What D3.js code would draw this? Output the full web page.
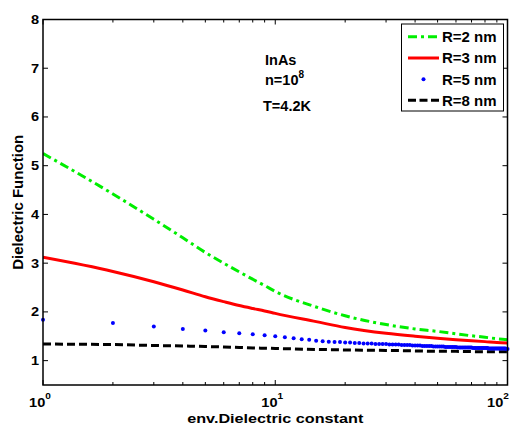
<!DOCTYPE html>
<html>
<head>
<meta charset="utf-8">
<script src="https://cdn.jsdelivr.net/npm/d3@7"></script>
<style>
body { margin: 0; background: #fff; }
svg text { font-family: "Liberation Sans", Arial, sans-serif; font-weight: bold; fill: #000; }
</style>
</head>
<body>
<script>
// env. dielectric constant where the curves were read
const epsLine = [1, 2, 3, 4, 5, 6, 7, 8, 9, 10, 15, 20, 30, 40, 50, 60, 70, 80, 90, 100];
const r2 = [5.25, 4.42, 3.90, 3.52, 3.22, 3.00, 2.82, 2.67, 2.54, 2.42, 2.10, 1.92, 1.74, 1.65, 1.60, 1.55, 1.51, 1.48, 1.45, 1.43];
const r3 = [3.12, 2.83, 2.62, 2.45, 2.31, 2.21, 2.13, 2.07, 2.02, 1.97, 1.80, 1.68, 1.56, 1.50, 1.46, 1.43, 1.41, 1.39, 1.37, 1.36];
const r8 = [1.34, 1.33, 1.31, 1.30, 1.29, 1.28, 1.27, 1.26, 1.255, 1.25, 1.23, 1.22, 1.21, 1.20, 1.19, 1.19, 1.185, 1.18, 1.18, 1.18];

// R=5 nm is plotted as dots, one per integer value
const epsDots = [1, 2, 3, 4, 5, 6, 7, 8, 9, 10, 11, 12, 13, 14, 15, 16, 17, 18, 19, 20,
  21, 22, 23, 24, 25, 26, 27, 28, 29, 30, 31, 32, 33, 34, 35, 36, 37, 38, 39, 40,
  41, 42, 43, 44, 45, 46, 47, 48, 49, 50, 51, 52, 53, 54, 55, 56, 57, 58, 59, 60,
  61, 62, 63, 64, 65, 66, 67, 68, 69, 70, 71, 72, 73, 74, 75, 76, 77, 78, 79, 80,
  81, 82, 83, 84, 85, 86, 87, 88, 89, 90, 91, 92, 93, 94, 95, 96, 97, 98, 99, 100];
const r5 = [1.84, 1.77, 1.70, 1.65, 1.62, 1.58, 1.56, 1.54, 1.52, 1.50,
  1.48, 1.46, 1.44, 1.43, 1.41, 1.40, 1.39, 1.38, 1.38, 1.37,
  1.37, 1.36, 1.36, 1.35, 1.35, 1.35, 1.34, 1.34, 1.34, 1.34,
  1.33, 1.33, 1.33, 1.33, 1.32, 1.32, 1.32, 1.32, 1.31, 1.31,
  1.31, 1.31, 1.30, 1.30, 1.30, 1.30, 1.30, 1.29, 1.29, 1.29,
  1.29, 1.29, 1.29, 1.28, 1.28, 1.28, 1.28, 1.28, 1.28, 1.28,
  1.27, 1.27, 1.27, 1.27, 1.27, 1.27, 1.27, 1.27, 1.27, 1.27,
  1.26, 1.26, 1.26, 1.26, 1.26, 1.26, 1.26, 1.26, 1.26, 1.26,
  1.26, 1.26, 1.25, 1.25, 1.25, 1.25, 1.25, 1.25, 1.25, 1.25,
  1.25, 1.25, 1.25, 1.25, 1.25, 1.25, 1.25, 1.25, 1.24, 1.24];

const yTicks = [1, 2, 3, 4, 5, 6, 7, 8];
const xMajor = [1, 10, 100];
const xMinor = [2, 3, 4, 5, 6, 7, 8, 9, 20, 30, 40, 50, 60, 70, 80, 90];
const xExp = ["0", "1", "2"];
const legendNames = ["R=2 nm", "R=3 nm", "R=5 nm", "R=8 nm"];
const notes = ["InAs", "n=10", "T=4.2K"];

const W = 512, H = 425;
const pLeft = 43, pRight = 507.5, pTop = 19.5, pBottom = 385;

const svg = d3.select("body").append("svg")
  .attr("width", W).attr("height", H);

const x = d3.scaleLog().domain([1, 100]).range([pLeft, pRight]);
const y = d3.scaleLinear().domain([0.5, 8]).range([pBottom, pTop]);

// text helper: stretch a bit in x like the original figure
function label(str, tx, ty, size, anchor, sx) {
  let g = svg.append("g").attr("transform", "translate(" + tx + "," + ty + ") scale(" + (sx || 1) + ",1)");
  let t = g.append("text").attr("font-size", size).attr("text-anchor", anchor || "start").text(str);
  return t;
}

svg.append("clipPath").attr("id", "plotclip")
  .append("rect").attr("x", pLeft).attr("y", pTop).attr("width", pRight - pLeft).attr("height", pBottom - pTop);

// ticks (inside, on all four sides)
let tk = svg.append("g").attr("stroke", "#000").attr("stroke-width", 1);
yTicks.forEach(v => {
  tk.append("line").attr("x1", pLeft).attr("x2", pLeft + 5).attr("y1", y(v)).attr("y2", y(v));
  tk.append("line").attr("x1", pRight).attr("x2", pRight - 5).attr("y1", y(v)).attr("y2", y(v));
});
xMajor.forEach(v => {
  tk.append("line").attr("x1", x(v)).attr("x2", x(v)).attr("y1", pBottom).attr("y2", pBottom - 5);
  tk.append("line").attr("x1", x(v)).attr("x2", x(v)).attr("y1", pTop).attr("y2", pTop + 5);
});
xMinor.forEach(v => {
  tk.append("line").attr("x1", x(v)).attr("x2", x(v)).attr("y1", pBottom).attr("y2", pBottom - 3);
  tk.append("line").attr("x1", x(v)).attr("x2", x(v)).attr("y1", pTop).attr("y2", pTop + 3);
});

// curves
let plot = svg.append("g").attr("clip-path", "url(#plotclip)");
let line = d3.line().x(d => x(d[0])).y(d => y(d[1])).curve(d3.curveMonotoneX);

plot.append("path").datum(d3.zip(epsLine, r8))
  .attr("d", line).attr("fill", "none").attr("stroke", "#000")
  .attr("stroke-width", 3).attr("stroke-dasharray", "8,4");
plot.append("path").datum(d3.zip(epsLine, r3))
  .attr("d", line).attr("fill", "none").attr("stroke", "#ff0000")
  .attr("stroke-width", 3);
plot.append("path").datum(d3.zip(epsLine, r2))
  .attr("d", line).attr("fill", "none").attr("stroke", "#00ee00")
  .attr("stroke-width", 3).attr("stroke-dasharray", "9,4,3,4");

svg.append("g").selectAll("circle")
  .data(d3.zip(epsDots, r5))
  .join("circle")
  .attr("cx", d => x(d[0])).attr("cy", d => y(d[1]))
  .attr("r", 2).attr("fill", "#0000ff");

// frame
svg.append("rect").attr("x", pLeft).attr("y", pTop)
  .attr("width", pRight - pLeft).attr("height", pBottom - pTop)
  .attr("fill", "none").attr("stroke", "#000").attr("stroke-width", 1.5);

// tick labels (last one pulled in so it stays on the page)
yTicks.forEach(v => label(v, 39, y(v) + 4.5, 13, "end", 1.12));
xMajor.forEach((v, i) => {
  let t = label("10", Math.min(x(v) - 3, 498), 407, 13, "middle", 1.12);
  t.append("tspan").attr("font-size", 9).attr("dy", -8).text(xExp[i]);
});

// axis titles
label("env.Dielectric constant", (pLeft + pRight) / 2, 422.5, 13.5, "middle", 1.2);
svg.append("text").attr("font-size", 15).attr("text-anchor", "middle")
  .attr("transform", "translate(23," + ((pTop + pBottom) / 2) + ") rotate(-90)")
  .text("Dielectric Function");

// annotation
label(notes[0], 265, 65, 14.5, "start", 1);
let n = label(notes[1], 265, 85, 14.5, "start", 1);
n.append("tspan").attr("font-size", 10).attr("dy", -7).text("8");
label(notes[2], 263, 111, 14.5, "start", 1);

// legend
let lg = svg.append("g");
lg.append("rect").attr("x", 401.5).attr("y", 24).attr("width", 102).attr("height", 87)
  .attr("fill", "#fff").attr("stroke", "#000").attr("stroke-width", 1);
const ly = [36.7, 58, 79.3, 100.3];
lg.append("line").attr("x1", 408).attr("x2", 439).attr("y1", ly[0]).attr("y2", ly[0])
  .attr("stroke", "#00ee00").attr("stroke-width", 3).attr("stroke-dasharray", "9,4,3,4");
lg.append("line").attr("x1", 408).attr("x2", 439).attr("y1", ly[1]).attr("y2", ly[1])
  .attr("stroke", "#ff0000").attr("stroke-width", 3);
lg.append("circle").attr("cx", 423.5).attr("cy", ly[2]).attr("r", 2).attr("fill", "#0000ff");
lg.append("line").attr("x1", 408).attr("x2", 439).attr("y1", ly[3]).attr("y2", ly[3])
  .attr("stroke", "#000").attr("stroke-width", 3).attr("stroke-dasharray", "8,3.5");
legendNames.forEach((s, i) => label(s, 442, ly[i] + 5.2, 15, "start", 1));
</script>
</body>
</html>
